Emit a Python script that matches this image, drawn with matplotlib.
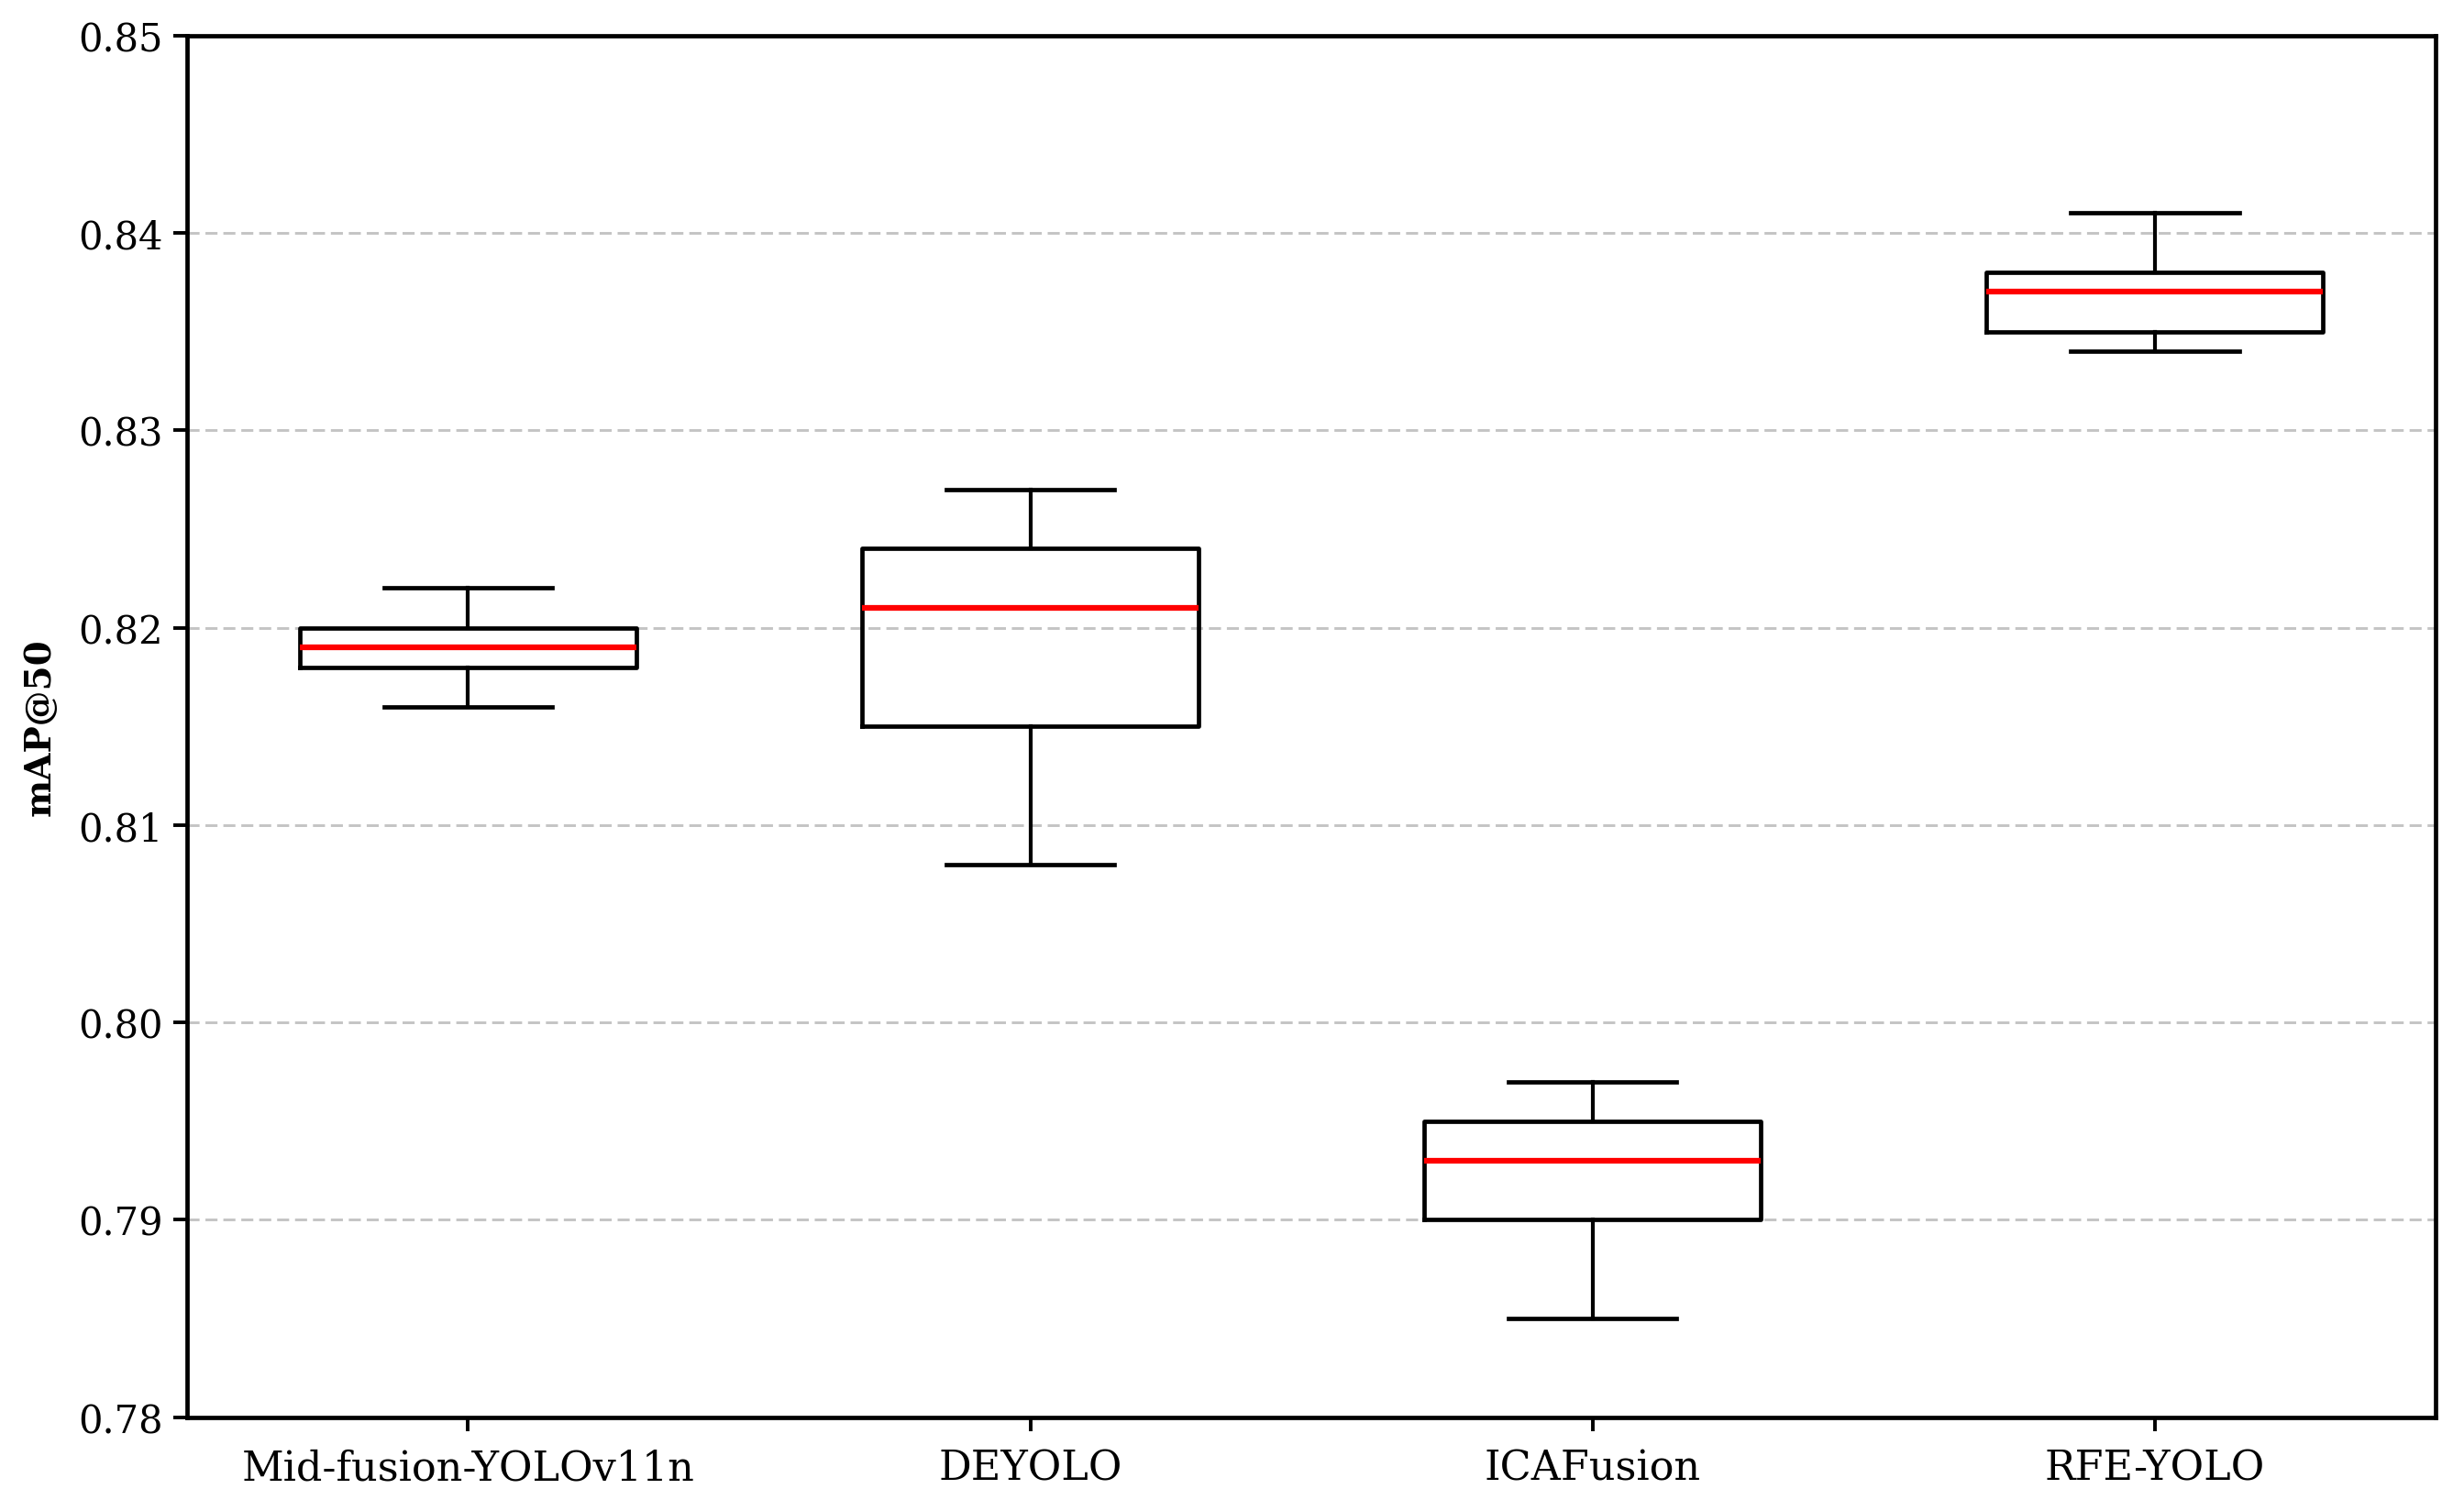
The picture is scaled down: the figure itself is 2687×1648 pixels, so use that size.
import matplotlib
matplotlib.use("Agg")
import matplotlib.pyplot as plt

models = ["Mid-fusion-YOLOv11n", "DEYOLO", "ICAFusion", "RFE-YOLO"]
whislo = [0.816, 0.808, 0.785, 0.834]
q1 = [0.818, 0.815, 0.790, 0.835]
med = [0.819, 0.821, 0.793, 0.837]
q3 = [0.820, 0.824, 0.795, 0.838]
whishi = [0.822, 0.827, 0.797, 0.841]
yticks = [0.78, 0.79, 0.80, 0.81, 0.82, 0.83, 0.84, 0.85]

plt.rcParams['font.family'] = ['DejaVu Serif']

fig = plt.figure(figsize=(26.87, 16.49), dpi=100)
ax = fig.add_axes([0.0759, 0.062, 0.9126, 0.914])

stats = []
for i, name in enumerate(models):
    stats.append(dict(label=name, whislo=whislo[i], q1=q1[i], med=med[i],
                      q3=q3[i], whishi=whishi[i], fliers=[]))

ax.bxp(stats, positions=[1, 2, 3, 4], widths=0.6, showfliers=False,
       boxprops=dict(color='black', linewidth=3.4),
       whiskerprops=dict(color='black', linewidth=3.0),
       capprops=dict(color='black', linewidth=3.4),
       medianprops=dict(color='red', linewidth=4.5))

ax.set_xlim(0.5, 4.5)
ax.set_ylim(0.78, 0.85)
ax.set_yticks(yticks)
ax.set_yticklabels([f"{v:.2f}" for v in yticks])
ax.yaxis.grid(True, linestyle=(0, (4.5, 2.2)), color='#c4c4c4', linewidth=2.1)
ax.set_axisbelow(True)

for s in ax.spines.values():
    s.set_linewidth(3.4)
ax.tick_params(axis='both', width=2.8, length=11, pad=8)
ax.tick_params(axis='x', labelsize=32, pad=13)
ax.tick_params(axis='y', labelsize=30)
ax.set_ylabel("mAP@50", fontsize=28, fontweight='bold', labelpad=16)

fig.savefig("out.png", dpi=100)
